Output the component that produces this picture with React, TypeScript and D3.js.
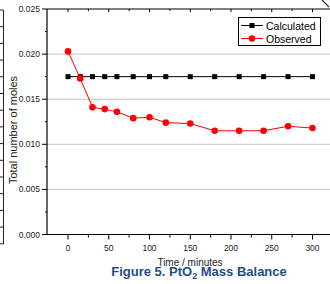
import React from "react";
import * as d3 from "d3";

const times = [0, 15, 30, 45, 60, 80, 100, 120, 150, 180, 210, 240, 270, 300];
const calculated = [0.0175, 0.0175, 0.0175, 0.0175, 0.0175, 0.0175, 0.0175, 0.0175, 0.0175, 0.0175, 0.0175, 0.0175, 0.0175, 0.0175];
const observed = [0.0203, 0.0173, 0.0141, 0.0139, 0.0136, 0.0129, 0.013, 0.0124, 0.0123, 0.0115, 0.0115, 0.0115, 0.012, 0.0118];
const xTicks = [0, 50, 100, 150, 200, 250, 300];
const yTicks = [0, 0.005, 0.01, 0.015, 0.02, 0.025];
const seriesNames = ["Calculated", "Observed"];

const W = 330, H = 284;
const FONT = "Arial, 'Liberation Sans', Helvetica, sans-serif";

export default function App() {
  const x = d3.scaleLinear().domain([-25.8, 321.5]).range([47, 330]);
  const y = d3.scaleLinear().domain([0, 0.025]).range([234.5, 9]);
  const minorX = d3.range(-25, 326, 25);
  const minorY = d3.range(0, 0.0251, 0.0025);
  const line = d3.line<number>().x((_, i) => x(times[i])).y((d) => y(d));
  const left = x.range()[0], right = x.range()[1];
  const top = y.range()[1], bottom = y.range()[0];
  const edgeTicks = d3.range(10, 245, 16.7);

  return (
    <svg width={W} height={H} style={{ position: "absolute", left: 0, top: 0, background: "#fff" }} fontFamily={FONT}>
      <rect x={0} y={0} width={W} height={H} fill="#fff" />
      {/* fragment of neighbouring figure */}
      <line x1={3.5} x2={3.5} y1={10} y2={244} stroke="#222" strokeWidth={1} />
      {edgeTicks.map((t, i) => (
        <line key={i} x1={0} x2={3.5} y1={t} y2={t} stroke="#222" strokeWidth={1} />
      ))}
      <line x1={322} y1={0} x2={329} y2={7} stroke="#222" strokeWidth={1.2} />

      {/* gridlines */}
      {yTicks.slice(1, -1).map((t) => (
        <line key={t} x1={left} x2={right} y1={y(t)} y2={y(t)} stroke="#c4c4c4" strokeWidth={1} />
      ))}

      {/* axes */}
      <line x1={left} x2={right} y1={bottom} y2={bottom} stroke="#000" strokeWidth={1.2} />
      <line x1={left} x2={right} y1={top} y2={top} stroke="#000" strokeWidth={1.2} />
      <line x1={left} x2={left} y1={top} y2={bottom} stroke="#000" strokeWidth={1.2} />
      {minorX.filter((v) => x(v) > left + 1 && x(v) < right).map((v) => {
        const major = xTicks.includes(v);
        return (
          <g key={v}>
            <line x1={x(v)} x2={x(v)} y1={bottom} y2={bottom + (major ? 5 : 3)} stroke="#000" strokeWidth={1} />
            <line x1={x(v)} x2={x(v)} y1={top} y2={top + (major ? 3 : 2)} stroke="#000" strokeWidth={1} />
          </g>
        );
      })}
      {xTicks.map((v) => (
        <text key={v} x={x(v)} y={bottom + 16} fontSize={8.5} textAnchor="middle" fill="#222">{v}</text>
      ))}
      {minorY.map((v, i) => (
        <line key={i} x1={left - (i % 2 === 0 ? 5 : 2)} x2={left} y1={y(v)} y2={y(v)} stroke="#000" strokeWidth={1} />
      ))}
      {yTicks.map((v) => (
        <text key={v} x={left - 7} y={y(v) + 3} fontSize={8.5} textAnchor="end" fill="#222">{v.toFixed(3)}</text>
      ))}

      {/* series */}
      <path d={line(calculated) || ""} fill="none" stroke="#000" strokeWidth={1} />
      {calculated.map((v, i) => (
        <rect key={i} x={x(times[i]) - 2.5} y={y(v) - 2.5} width={5} height={5} fill="#000" />
      ))}
      <path d={line(observed) || ""} fill="none" stroke="#ff0000" strokeWidth={1} />
      {observed.map((v, i) => (
        <circle key={i} cx={x(times[i])} cy={y(v)} r={3.3} fill="#ff0000" />
      ))}

      {/* legend */}
      <rect x={238.5} y={17.5} width={82} height={28} fill="#fff" stroke="#000" strokeWidth={1} />
      <line x1={241} x2={263} y1={25.5} y2={25.5} stroke="#000" strokeWidth={1} />
      <rect x={249.5} y={23} width={5} height={5} fill="#000" />
      <text x={266} y={29.5} fontSize={10.5} fill="#000">{seriesNames[0]}</text>
      <line x1={241} x2={263} y1={38.5} y2={38.5} stroke="#ff0000" strokeWidth={1} />
      <circle cx={252} cy={38.5} r={3.3} fill="#ff0000" />
      <text x={266} y={42.5} fontSize={10.5} fill="#000">{seriesNames[1]}</text>

      {/* axis titles */}
      <text transform="translate(17,130) rotate(-90)" fontSize={11} textAnchor="middle" fill="#222">Total number of moles</text>
      <text x={190} y={266} fontSize={10} textAnchor="middle" fill="#222">Time / minutes</text>

      {/* caption */}
      <text x={199} y={276} fontSize={13} fontWeight="bold" textAnchor="middle" fill="#1f4e89">
        Figure 5. PtO<tspan fontSize={9} dy={3}>2</tspan><tspan dy={-3}> Mass Balance</tspan>
      </text>
    </svg>
  );
}
